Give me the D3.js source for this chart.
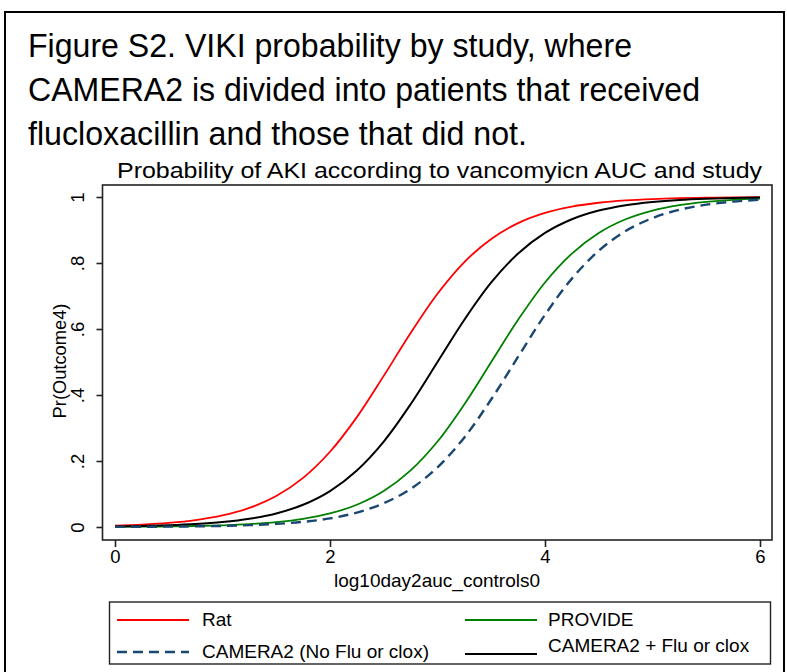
<!DOCTYPE html>
<html>
<head>
<meta charset="utf-8">
<script src="https://cdn.jsdelivr.net/npm/d3@7"></script>
<style>
  html, body { margin: 0; padding: 0; background: #fff; }
  svg { display: block; font-family: "Liberation Sans", Arial, sans-serif; }
</style>
</head>
<body>
<svg id="chart" width="787" height="672"></svg>
<script>
// ---- data ----
const xValues = [0, 0.25, 0.5, 0.75, 1, 1.25, 1.5, 1.75, 2, 2.25, 2.5, 2.75, 3,
                 3.25, 3.5, 3.75, 4, 4.25, 4.5, 4.75, 5, 5.25, 5.5, 5.75, 6];
const ratValues = [0.0044, 0.0074, 0.0125, 0.021, 0.035, 0.0577, 0.094, 0.149, 0.228, 0.333, 0.458, 0.588, 0.707,
                   0.803, 0.873, 0.921, 0.952, 0.9709, 0.9826, 0.9896, 0.9938, 0.9963, 0.9978, 0.9987, 0.9992];
const camFluValues = [0.0018, 0.0031, 0.0052, 0.0088, 0.0148, 0.0247, 0.041, 0.0675, 0.109, 0.1715, 0.259, 0.372, 0.500,
                      0.628, 0.741, 0.8285, 0.891, 0.9325, 0.959, 0.9753, 0.985, 0.9912, 0.9948, 0.9969, 0.9982];
const provideValues = [0.0006, 0.0011, 0.0018, 0.0031, 0.0052, 0.0088, 0.0148, 0.0247, 0.041, 0.0675, 0.109, 0.1715, 0.259,
                       0.372, 0.500, 0.628, 0.741, 0.8285, 0.891, 0.9325, 0.959, 0.9753, 0.985, 0.9912, 0.9948];
const camNoFluValues = [0.0004, 0.0007, 0.0012, 0.0020, 0.0033, 0.0056, 0.0094, 0.0157, 0.026, 0.0437, 0.072, 0.1154, 0.181,
                        0.2715, 0.387, 0.516, 0.643, 0.7527, 0.837, 0.8969, 0.936, 0.9613, 0.9767, 0.9861, 0.9917];

const seriesNames = ["Rat", "PROVIDE", "CAMERA2 (No Flu or clox)", "CAMERA2 + Flu or clox"];
const xTicks = [0, 2, 4, 6];
const yTicks = [0, 0.2, 0.4, 0.6, 0.8, 1];
const yTickLabels = ["0", ".2", ".4", ".6", ".8", "1"];
const titleLines = [
  "Figure S2. VIKI probability by study, where",
  "CAMERA2 is divided into patients that received",
  "flucloxacillin and those that did not."
];
const subtitle = "Probability of AKI according to vancomyicn AUC and study";
const xTitle = "log10day2auc_controls0";
const yTitle = "Pr(Outcome4)";

const series = [
  { name: seriesNames[0], values: ratValues, color: "#ff0000", dash: null, width: 1.8 },
  { name: seriesNames[1], values: provideValues, color: "#008000", dash: null, width: 1.8 },
  { name: seriesNames[2], values: camNoFluValues, color: "#1a476f", dash: "10,6", width: 2.4 },
  { name: seriesNames[3], values: camFluValues, color: "#000000", dash: null, width: 2 }
];

const svg = d3.select("#chart");

// outer frame
svg.append("rect").attr("x", 5).attr("y", 12).attr("width", 779).attr("height", 700)
  .attr("fill", "none").attr("stroke", "#000").attr("stroke-width", 2);

// big title
const titleLen = [604, 672, 499];
titleLines.forEach((t, i) => {
  svg.append("text").attr("x", 28).attr("y", 57 + i * 44)
    .attr("font-size", 32.5).attr("fill", "#000")
    .attr("textLength", titleLen[i]).attr("lengthAdjust", "spacingAndGlyphs")
    .text(t);
});

// plot geometry
const box = { left: 102.5, right: 772, top: 185, bottom: 540 };
const x = d3.scaleLinear().domain([0, 6]).range([115, 760]);
const y = d3.scaleLinear().domain([0, 1]).range([527, 197]);

// subtitle
svg.append("text").attr("x", 439.5).attr("y", 178)
  .attr("text-anchor", "middle").attr("font-size", 22)
  .attr("textLength", 645).attr("lengthAdjust", "spacingAndGlyphs")
  .text(subtitle);

// plot frame
svg.append("rect").attr("x", box.left).attr("y", box.top)
  .attr("width", box.right - box.left).attr("height", box.bottom - box.top)
  .attr("fill", "#fff").attr("stroke", "#222").attr("stroke-width", 1.6);

// x axis
const xAxis = d3.axisBottom(x).tickValues(xTicks).tickSize(7).tickPadding(3).tickFormat(d3.format("d"));
const gx = svg.append("g").attr("transform", `translate(0,${box.bottom})`).call(xAxis);
gx.select(".domain").remove();
gx.selectAll(".tick line").attr("stroke", "#222").attr("stroke-width", 1.6);
gx.selectAll(".tick text").attr("font-size", 18.5).attr("font-family", "Liberation Sans, Arial, sans-serif").attr("fill", "#000");

// y axis
const yAxis = d3.axisLeft(y).tickValues(yTicks).tickSize(6).tickFormat((d, i) => yTickLabels[i]);
const gy = svg.append("g").attr("transform", `translate(${box.left},0)`).call(yAxis);
gy.select(".domain").remove();
gy.selectAll(".tick line").attr("stroke", "#222").attr("stroke-width", 1.6);
gy.selectAll(".tick text")
  .attr("font-size", 18.5).attr("font-family", "Liberation Sans, Arial, sans-serif").attr("fill", "#000")
  .attr("x", 0).attr("dy", 0)
  .attr("text-anchor", "middle")
  .attr("transform", "translate(-19,0) rotate(-90)");

// axis titles
svg.append("text").attr("x", 437).attr("y", 587)
  .attr("text-anchor", "middle").attr("font-size", 19).text(xTitle);
svg.append("text").attr("transform", `translate(66,361) rotate(-90)`)
  .attr("text-anchor", "middle").attr("font-size", 18.3).text(yTitle);

// lines
const line = d3.line().x((d, i) => x(xValues[i])).y(d => y(d)).curve(d3.curveCatmullRom.alpha(0.5));
const drawOrder = [0, 1, 3, 2];
drawOrder.forEach(k => {
  const s = series[k];
  svg.append("path").datum(s.values)
    .attr("d", line).attr("fill", "none")
    .attr("stroke", s.color).attr("stroke-width", s.width)
    .attr("stroke-dasharray", s.dash);
});

// legend
const lg = svg.append("g");
lg.append("rect").attr("x", 109.5).attr("y", 602).attr("width", 661).attr("height", 62)
  .attr("fill", "#fff").attr("stroke", "#222").attr("stroke-width", 1.4);
const legendItems = [
  { s: series[0], lx: 117, ly: 620, tx: 202, ty: 626 },
  { s: series[1], lx: 465, ly: 620, tx: 548, ty: 626 },
  { s: series[2], lx: 117, ly: 652, tx: 202, ty: 658 },
  { s: series[3], lx: 465, ly: 654, tx: 548, ty: 652 }
];
legendItems.forEach(it => {
  lg.append("line").attr("x1", it.lx).attr("x2", it.lx + 72).attr("y1", it.ly).attr("y2", it.ly)
    .attr("stroke", it.s.color).attr("stroke-width", it.s.width)
    .attr("stroke-dasharray", it.s.dash);
  lg.append("text").attr("x", it.tx).attr("y", it.ty).attr("font-size", 19).text(it.s.name);
});
</script>
</body>
</html>
